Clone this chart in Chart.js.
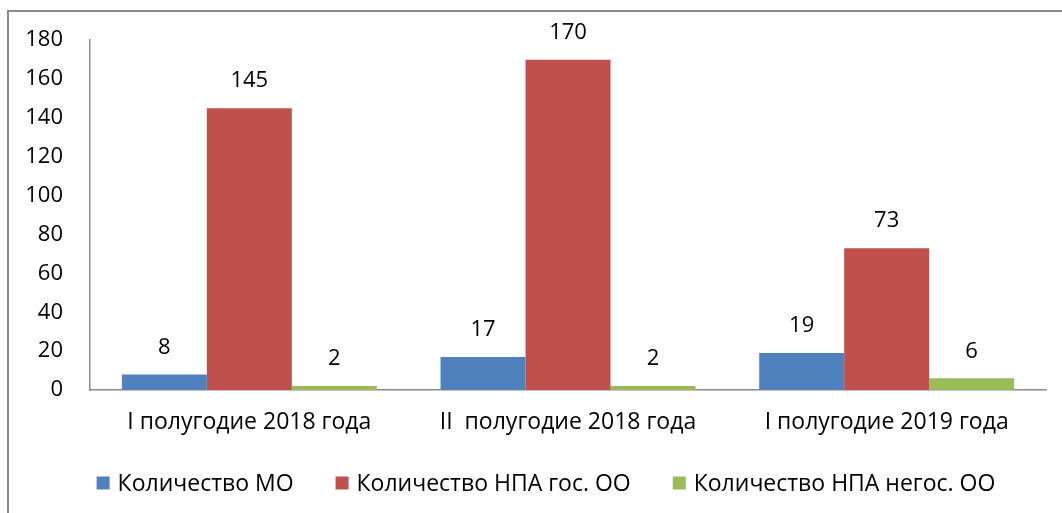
<!DOCTYPE html>
<html>
<head>
<meta charset="utf-8">
<script src="https://cdn.jsdelivr.net/npm/chart.js@4.4.1/dist/chart.umd.min.js"></script>
<style>
  html, body { margin: 0; padding: 0; background: #fff; overflow: hidden; }
  #frame {
    position: absolute; left: 7px; top: 10px; width: 1100px; height: 560px;
    border-left: 2px solid #8a8a8a; border-top: 2px solid #8a8a8a;
  }
  #wrap { position: absolute; left: 0; top: 0; width: 1062px; height: 513px; }
</style>
</head>
<body>
<div id="frame"></div>
<div id="wrap"><canvas id="chart"></canvas></div>
<script>
// ── DATA ────────────────────────────────────────────────
const categories = ['I полугодие 2018 года', 'II  полугодие 2018 года', 'I полугодие 2019 года'];
const seriesNames = ['Количество МО', 'Количество НПА гос. ОО', 'Количество НПА негос. ОО'];
const valuesMO = [8, 17, 19];
const valuesGos = [145, 170, 73];
const valuesNegos = [2, 2, 6];
const yTicks = [0, 20, 40, 60, 80, 100, 120, 140, 160, 180];

const colors = ['#4F81BD', '#C0504D', '#9BBB59'];
const FONT = '"Open Sans", sans-serif';
const NUM_SIZE = 22;   // numbers (ticks, value labels)
const TXT_SIZE = 23;   // category labels, legend

// ── VALUE LABELS ────────────────────────────────────────
const valueLabels = {
  id: 'valueLabels',
  afterDatasetsDraw(chart) {
    const ctx = chart.ctx;
    ctx.save();
    ctx.font = NUM_SIZE + 'px ' + FONT;
    ctx.fillStyle = '#000';
    ctx.textAlign = 'center';
    ctx.textBaseline = 'middle';
    chart.data.datasets.forEach((ds, i) => {
      chart.getDatasetMeta(i).data.forEach((bar, j) => {
        ctx.fillText(String(ds.data[j]), bar.x, bar.y - 27);
      });
    });
    ctx.restore();
  }
};

// ── LEGEND (bottom, Excel-like spacing) ─────────────────
const bottomLegend = {
  id: 'bottomLegend',
  afterDraw(chart) {
    const ctx = chart.ctx;
    const box = 13, gapText = 8, gapItem = 42;
    const cy = 483, cx = 546;
    ctx.save();
    ctx.font = TXT_SIZE + 'px ' + FONT;
    ctx.textBaseline = 'middle';
    const items = chart.data.datasets.map(ds => ({
      text: ds.label, color: ds.backgroundColor, w: box + gapText + ctx.measureText(ds.label).width
    }));
    const total = items.reduce((s, it) => s + it.w, 0) + gapItem * (items.length - 1);
    let x = cx - total / 2;
    items.forEach(it => {
      ctx.fillStyle = it.color;
      ctx.fillRect(x, cy - box / 2, box, box);
      ctx.fillStyle = '#000';
      ctx.fillText(it.text, x + box + gapText, cy + 1);
      x += it.w + gapItem;
    });
    ctx.restore();
  }
};

new Chart(document.getElementById('chart'), {
  type: 'bar',
  data: {
    labels: categories,
    datasets: [
      { label: seriesNames[0], data: valuesMO, backgroundColor: colors[0] },
      { label: seriesNames[1], data: valuesGos, backgroundColor: colors[1] },
      { label: seriesNames[2], data: valuesNegos, backgroundColor: colors[2] },
    ],
  },
  options: {
    responsive: true,
    maintainAspectRatio: false,
    animation: false,
    devicePixelRatio: 1,
    categoryPercentage: 0.8,
    barPercentage: 1.0,
    layout: { padding: { left: 0, top: 40, right: 16, bottom: 63 } },
    plugins: {
      legend: { display: false },
      tooltip: { enabled: false },
    },
    scales: {
      x: {
        grid: { display: false, drawTicks: false },
        border: { display: true, color: '#8a8a8a', width: 1.5 },
        ticks: { color: '#000', padding: 19, maxRotation: 0, font: { family: FONT, size: TXT_SIZE } },
        afterFit: s => { s.height = 60; },
      },
      y: {
        min: 0,
        max: 180,
        afterBuildTicks: s => { s.ticks = yTicks.map(v => ({ value: v })); },
        grid: { display: false, drawTicks: false },
        border: { display: true, color: '#8a8a8a', width: 1.5 },
        ticks: { color: '#000', padding: 27, font: { family: FONT, size: NUM_SIZE } },
        afterFit: s => { s.width = 90; },
      },
    },
  },
  plugins: [valueLabels, bottomLegend],
});
</script>
</body>
</html>
